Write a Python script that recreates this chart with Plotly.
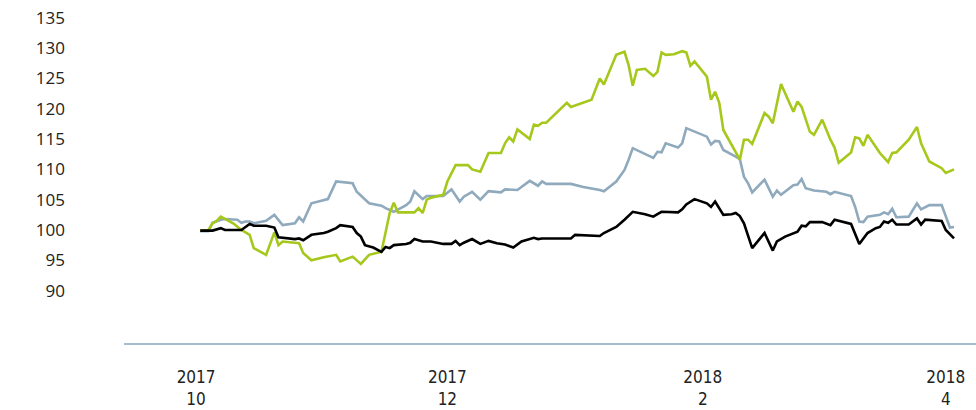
import plotly.graph_objects as go

# ---- data ----
green_dates = ["2017-10-02","2017-10-04","2017-10-05","2017-10-06","2017-10-07","2017-10-10","2017-10-12",
    "2017-10-14","2017-10-15","2017-10-18","2017-10-20","2017-10-21","2017-10-22","2017-10-26","2017-10-27",
    "2017-10-29","2017-11-01","2017-11-02","2017-11-04","2017-11-05","2017-11-08","2017-11-10","2017-11-12",
    "2017-11-15","2017-11-17","2017-11-18","2017-11-19","2017-11-23","2017-11-24","2017-11-25","2017-11-26",
    "2017-11-27","2017-11-30","2017-12-01","2017-12-03","2017-12-06","2017-12-07","2017-12-09","2017-12-11",
    "2017-12-14","2017-12-15","2017-12-16","2017-12-17","2017-12-18","2017-12-21","2017-12-22","2017-12-23",
    "2017-12-24","2017-12-25","2017-12-30","2017-12-31","2018-01-05","2018-01-07","2018-01-08","2018-01-11",
    "2018-01-13","2018-01-14","2018-01-15","2018-01-16","2018-01-18","2018-01-20","2018-01-21","2018-01-22",
    "2018-01-23","2018-01-25","2018-01-27","2018-01-28","2018-01-29","2018-01-30","2018-02-02","2018-02-03",
    "2018-02-04","2018-02-05","2018-02-06","2018-02-10","2018-02-11","2018-02-12","2018-02-13","2018-02-16",
    "2018-02-17","2018-02-18","2018-02-20","2018-02-23","2018-02-24","2018-02-25","2018-02-27","2018-02-28",
    "2018-03-02","2018-03-04","2018-03-05","2018-03-06","2018-03-09","2018-03-10","2018-03-11","2018-03-12",
    "2018-03-13","2018-03-16","2018-03-18","2018-03-19","2018-03-20","2018-03-23","2018-03-25","2018-03-26",
    "2018-03-28","2018-03-31","2018-04-01","2018-04-03"]
green_values = [99.9,100.0,101.1,101.5,102.2,101.1,100.0,
    99.2,97.0,95.9,99.6,97.5,98.1,97.8,96.2,
    95.0,95.5,95.6,95.9,94.8,95.6,94.4,95.9,
    96.4,102.8,104.5,102.9,102.9,103.6,102.8,105.0,
    105.3,105.8,108.0,110.7,110.7,110.0,109.6,112.7,
    112.7,114.3,115.3,114.6,116.6,115.0,117.4,117.2,
    117.7,117.7,121.0,120.3,121.5,125.0,124.0,128.9,
    129.4,127.2,123.8,126.4,126.6,125.4,126.1,129.3,
    128.9,129.0,129.5,129.3,127.1,127.8,125.3,121.5,
    122.8,121.0,116.5,111.6,114.9,114.9,114.2,119.3,
    118.7,117.6,124.1,119.5,121.2,120.3,116.2,115.7,
    118.2,114.9,113.6,111.1,112.8,115.3,115.1,113.9,
    115.7,112.7,111.2,112.7,112.8,114.9,117.0,114.3,
    111.3,110.2,109.4,110.0]

blue_dates = ["2017-10-02","2017-10-04","2017-10-05","2017-10-07","2017-10-08","2017-10-11","2017-10-12",
    "2017-10-13","2017-10-14","2017-10-15","2017-10-18","2017-10-20","2017-10-22","2017-10-25","2017-10-26",
    "2017-10-27","2017-10-29","2017-11-01","2017-11-02","2017-11-04","2017-11-06","2017-11-08","2017-11-09",
    "2017-11-12","2017-11-15","2017-11-16","2017-11-18","2017-11-19","2017-11-21","2017-11-22","2017-11-23",
    "2017-11-25","2017-11-26","2017-11-30","2017-12-02","2017-12-04","2017-12-05","2017-12-07","2017-12-09",
    "2017-12-11","2017-12-14","2017-12-15","2017-12-18","2017-12-21","2017-12-23","2017-12-24","2017-12-25",
    "2017-12-31","2018-01-03","2018-01-07","2018-01-08","2018-01-11","2018-01-13","2018-01-14","2018-01-15",
    "2018-01-20","2018-01-21","2018-01-22","2018-01-23","2018-01-26","2018-01-27","2018-01-28","2018-02-02",
    "2018-02-03","2018-02-04","2018-02-05","2018-02-06","2018-02-09","2018-02-10","2018-02-11","2018-02-12",
    "2018-02-13","2018-02-16","2018-02-18","2018-02-19","2018-02-20","2018-02-23","2018-02-24","2018-02-25",
    "2018-02-26","2018-02-28","2018-03-03","2018-03-04","2018-03-05","2018-03-09","2018-03-10","2018-03-11",
    "2018-03-12","2018-03-13","2018-03-16","2018-03-17","2018-03-18","2018-03-19","2018-03-20","2018-03-23",
    "2018-03-25","2018-03-26","2018-03-28","2018-03-31","2018-04-02","2018-04-03"]
blue_values = [99.8,99.8,101.2,101.7,101.8,101.7,101.2,
    101.4,101.4,101.1,101.5,102.5,100.8,101.1,102.1,
    101.4,104.4,105.0,105.1,108.0,107.8,107.7,106.3,
    104.4,104.0,103.6,103.0,103.4,104.1,104.7,106.4,
    105.1,105.6,105.6,106.7,104.7,105.5,106.3,105.0,
    106.4,106.2,106.7,106.6,108.1,107.3,108.0,107.6,
    107.6,107.1,106.6,106.4,108.0,109.9,111.6,113.5,
    111.9,112.9,112.8,114.3,113.6,114.3,116.8,115.4,
    114.1,114.7,114.6,113.2,112.1,111.7,108.8,107.7,
    106.2,108.3,105.5,106.5,105.8,107.4,107.5,108.4,
    106.9,106.5,106.3,105.9,106.3,105.6,103.8,101.4,
    101.3,102.2,102.5,102.9,102.6,103.5,102.1,102.2,
    104.4,103.4,104.1,104.1,100.4,100.5]

black_dates = ["2017-10-02","2017-10-05","2017-10-07","2017-10-08","2017-10-12","2017-10-14","2017-10-15",
    "2017-10-18","2017-10-20","2017-10-21","2017-10-25","2017-10-26","2017-10-27","2017-10-29","2017-11-01",
    "2017-11-02","2017-11-04","2017-11-05","2017-11-08","2017-11-09","2017-11-10","2017-11-11","2017-11-13",
    "2017-11-15","2017-11-16","2017-11-17","2017-11-18","2017-11-21","2017-11-22","2017-11-23","2017-11-25",
    "2017-11-27","2017-11-30","2017-12-02","2017-12-03","2017-12-04","2017-12-05","2017-12-07","2017-12-09",
    "2017-12-11","2017-12-13","2017-12-15","2017-12-17","2017-12-19","2017-12-22","2017-12-23","2017-12-24",
    "2017-12-31","2018-01-01","2018-01-07","2018-01-08","2018-01-11","2018-01-13","2018-01-15","2018-01-18",
    "2018-01-20","2018-01-21","2018-01-22","2018-01-26","2018-01-27","2018-01-28","2018-01-30","2018-02-02",
    "2018-02-03","2018-02-04","2018-02-06","2018-02-08","2018-02-09","2018-02-10","2018-02-11","2018-02-13",
    "2018-02-16","2018-02-18","2018-02-19","2018-02-21","2018-02-23","2018-02-24","2018-02-25","2018-02-26",
    "2018-02-27","2018-03-02","2018-03-04","2018-03-05","2018-03-09","2018-03-11","2018-03-13","2018-03-15",
    "2018-03-16","2018-03-17","2018-03-18","2018-03-19","2018-03-20","2018-03-23","2018-03-25","2018-03-26",
    "2018-03-27","2018-03-31","2018-04-01","2018-04-03"]
black_values = [99.9,99.9,100.3,100.0,100.0,101.0,100.7,
    100.7,100.4,98.8,98.5,98.6,98.3,99.2,99.5,
    99.7,100.3,100.8,100.5,99.5,98.9,97.5,97.1,
    96.4,97.2,97.0,97.5,97.7,97.9,98.5,98.1,
    98.1,97.7,97.7,98.2,97.5,97.9,98.5,97.7,
    98.2,97.8,97.6,97.1,98.1,98.7,98.5,98.6,
    98.6,99.2,99.0,99.5,100.5,101.7,103.0,102.6,
    102.2,102.6,103.0,102.9,103.4,104.2,105.1,104.4,
    103.8,104.7,102.5,102.6,102.8,102.3,101.1,97.0,
    99.5,96.6,98.1,98.9,99.5,99.7,100.7,100.6,
    101.3,101.3,100.8,101.7,101.0,97.7,99.5,100.3,
    100.5,101.4,101.2,101.7,100.9,100.9,101.9,100.9,
    101.7,101.5,100.0,98.6]

y_ticks = [90, 95, 100, 105, 110, 115, 120, 125, 130, 135]
x_tick_dates = ["2017-10-01", "2017-12-01", "2018-02-01", "2018-04-01"]
x_tick_labels = ["2017<br>10", "2017<br>12", "2018<br>2", "2018<br>4"]

# ---- figure ----
fig = go.Figure()
fig.add_trace(go.Scatter(x=blue_dates, y=blue_values, mode="lines",
                         line=dict(color="#8fa9bd", width=2.6), showlegend=False))
fig.add_trace(go.Scatter(x=green_dates, y=green_values, mode="lines",
                         line=dict(color="#a6c81c", width=2.6), showlegend=False))
fig.add_trace(go.Scatter(x=black_dates, y=black_values, mode="lines",
                         line=dict(color="#000000", width=2.6), showlegend=False))

fig.update_layout(
    width=976, height=410,
    margin=dict(l=124, r=0, t=0, b=67),
    paper_bgcolor="white", plot_bgcolor="white",
    showlegend=False,
    xaxis=dict(
        type="date",
        range=["2017-09-13 12:00", "2018-04-08 08:00"],
        tickmode="array", tickvals=x_tick_dates, ticktext=x_tick_labels,
        showgrid=False, zeroline=False,
        showline=True, linecolor="#a7bbcc", linewidth=1.6,
        ticks="", ticklabelstandoff=18,
        tickfont=dict(family="Liberation Sans Narrow, DejaVu Sans Condensed, Arial Narrow, sans-serif",
                      size=17, color="#222222"),
    ),
    yaxis=dict(
        range=[81.35, 137.95],
        tickmode="array", tickvals=y_ticks,
        showgrid=False, zeroline=False, showline=False,
        ticks="", ticklabelstandoff=58,
        tickfont=dict(family="Open Sans, sans-serif", size=17, color="#222222"),
    ),
)

fig.write_html("out.html", config={"displayModeBar": False},
               post_script="document.body.style.margin='0';document.body.style.overflow='hidden';")
